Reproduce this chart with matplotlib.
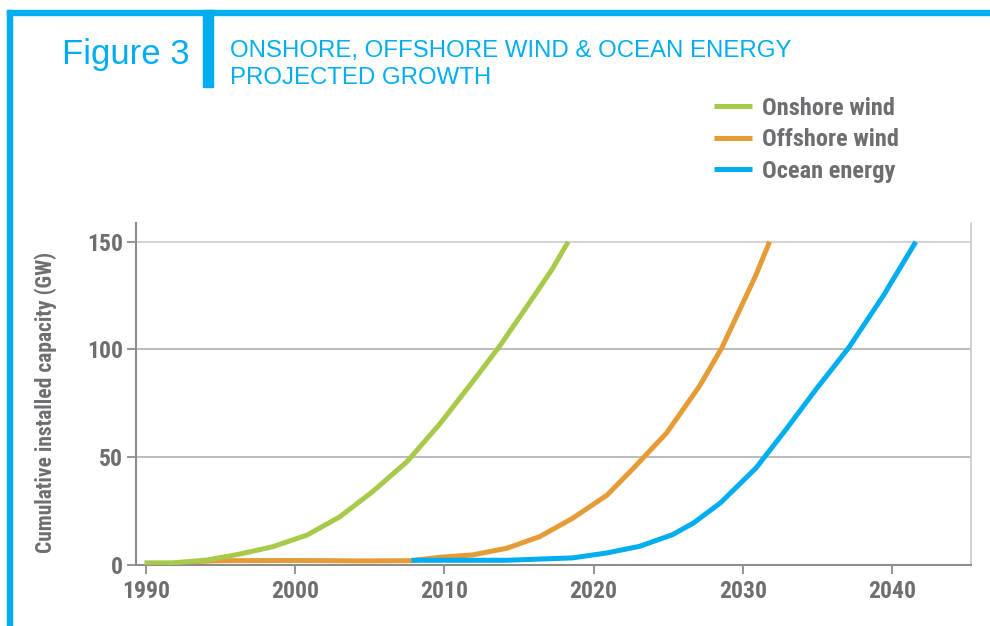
import matplotlib
matplotlib.use("Agg")
import matplotlib.pyplot as plt
from matplotlib import font_manager
from matplotlib.patches import Rectangle

#############################################################################
# Projected cumulative installed capacity (GW)

onshore_years = [1989.9, 1991.8, 1994.1, 1996.3, 1998.5, 2000.8, 2003.0, 2005.2,
                 2007.5, 2009.7, 2012.0, 2013.7, 2016.0, 2017.2, 2018.3]
onshore_gw = [1.0, 1.0, 2.3, 5.1, 8.5, 13.9, 22.4, 34.1,
              48.0, 65.5, 86.0, 101.5, 124.7, 137.0, 150.0]

offshore_years = [1993.0, 1995.0, 2000.0, 2004.5, 2007.8, 2009.7, 2011.9, 2014.2,
                  2016.4, 2018.6, 2020.9, 2022.7, 2024.9, 2027.1, 2028.6, 2029.8,
                  2030.9, 2031.8]
offshore_gw = [1.5, 2.0, 2.1, 1.9, 2.0, 3.6, 4.7, 7.8,
               13.2, 21.7, 32.4, 45.1, 61.3, 83.0, 100.8, 118.5,
               134.8, 150.0]

ocean_years = [2007.8, 2009.7, 2014.2, 2018.6, 2020.9, 2023.1, 2025.3, 2026.7,
               2028.5, 2030.9, 2032.9, 2034.9, 2037.1, 2039.4, 2041.6]
ocean_gw = [2.2, 2.2, 2.2, 3.3, 5.6, 8.7, 14.1, 19.5,
            28.8, 45.1, 62.9, 81.4, 100.8, 124.7, 150.0]

series_labels = ["Onshore wind", "Offshore wind", "Ocean energy"]
x_ticks = [1990, 2000, 2010, 2020, 2030, 2040]
y_ticks = [0, 50, 100, 150]

CYAN = "#00aeef"
GREEN = "#a8c94a"
ORANGE = "#e59c37"
GREY_TEXT = "#6d6e71"
AXIS_GREY = "#8c8c8c"


def first_font(names):
    for name in names:
        try:
            font_manager.findfont(name, fallback_to_default=False)
            return name
        except ValueError:
            continue
    return None


# narrow bold face for axis text, with a smaller size when only a wide face exists
narrow = first_font(["Roboto Condensed", "DejaVu Sans Condensed",
                     "Liberation Sans Narrow", "Open Sans Condensed"])
if narrow:
    COND, SCALE = [narrow, "DejaVu Sans"], 1.0
else:
    COND, SCALE = ["Roboto", "DejaVu Sans"], 0.82

#############################################################################
fig = plt.figure(figsize=(9.9, 6.26), dpi=100)

# cyan frame and title bar
fig.patches.append(Rectangle((7 / 990, 0), 5 / 990, 616 / 626, transform=fig.transFigure,
                             color=CYAN, zorder=0))
fig.patches.append(Rectangle((7 / 990, 1 - 15 / 626), 983 / 990, 5 / 626,
                             transform=fig.transFigure, color=CYAN, zorder=0))
fig.patches.append(Rectangle((203 / 990, 1 - 87 / 626), 10 / 990, 77 / 626,
                             transform=fig.transFigure, color=CYAN, zorder=0))

fig.text(190 / 990, 1 - 64 / 626, "Figure 3", ha="right", va="baseline",
         fontsize=25, color=CYAN, family="Liberation Sans")
fig.text(230 / 990, 1 - 57 / 626, "ONSHORE, OFFSHORE WIND & OCEAN ENERGY",
         ha="left", va="baseline", fontsize=17.3, color=CYAN, family="Liberation Sans")
fig.text(230 / 990, 1 - 83.5 / 626, "PROJECTED GROWTH",
         ha="left", va="baseline", fontsize=17.3, color=CYAN, family="Liberation Sans")

ax = fig.add_axes([136 / 990, 1 - 565 / 626, 835 / 990, 342 / 626])

line_kw = dict(linewidth=3.6, solid_capstyle="butt", solid_joinstyle="round")
h_off, = ax.plot(offshore_years, offshore_gw, color=ORANGE, zorder=3, **line_kw)
h_on, = ax.plot(onshore_years, onshore_gw, color=GREEN, zorder=4, **line_kw)
h_oce, = ax.plot(ocean_years, ocean_gw, color=CYAN, zorder=4, **line_kw)

ax.set_xlim(1989.33, 2045.3)
ax.set_ylim(0, 158.7)
ax.set_xticks(x_ticks)
ax.set_yticks(y_ticks)

for y in y_ticks[1:]:
    ax.axhline(y, color="#c8c8c8" if y == 150 else "#a9a9a9", linewidth=1.1, zorder=1)

for side in ["left", "bottom"]:
    ax.spines[side].set_color(AXIS_GREY)
    ax.spines[side].set_linewidth(1.5)
ax.spines["top"].set_visible(False)
ax.spines["right"].set_color("#c8c8c8")
ax.spines["right"].set_linewidth(1.2)

ax.tick_params(axis="both", colors=AXIS_GREY, length=6.5, width=1.3,
               labelcolor=GREY_TEXT, labelsize=17 * SCALE)
ax.tick_params(axis="x", pad=4)
ax.tick_params(axis="y", pad=3)
for lbl in ax.get_xticklabels() + ax.get_yticklabels():
    lbl.set_family(COND)
    lbl.set_weight("bold")

ax.set_ylabel("Cumulative installed capacity (GW)", fontsize=15.5 * SCALE,
              color=GREY_TEXT, family=COND, weight="bold")
ax.yaxis.set_label_coords(-0.095, 0.475)

fig.legend([h_on, h_off, h_oce], series_labels, loc="upper left",
           bbox_to_anchor=(714 / 990, 1 - 97 / 626), frameon=False,
           prop={"family": COND, "weight": "bold", "size": 17.6 * SCALE},
           labelcolor=GREY_TEXT, handlelength=1.56 / SCALE, handletextpad=0.41 / SCALE,
           labelspacing=0.34 / SCALE, borderpad=0, borderaxespad=0)

fig.savefig("out.png", dpi=100)
